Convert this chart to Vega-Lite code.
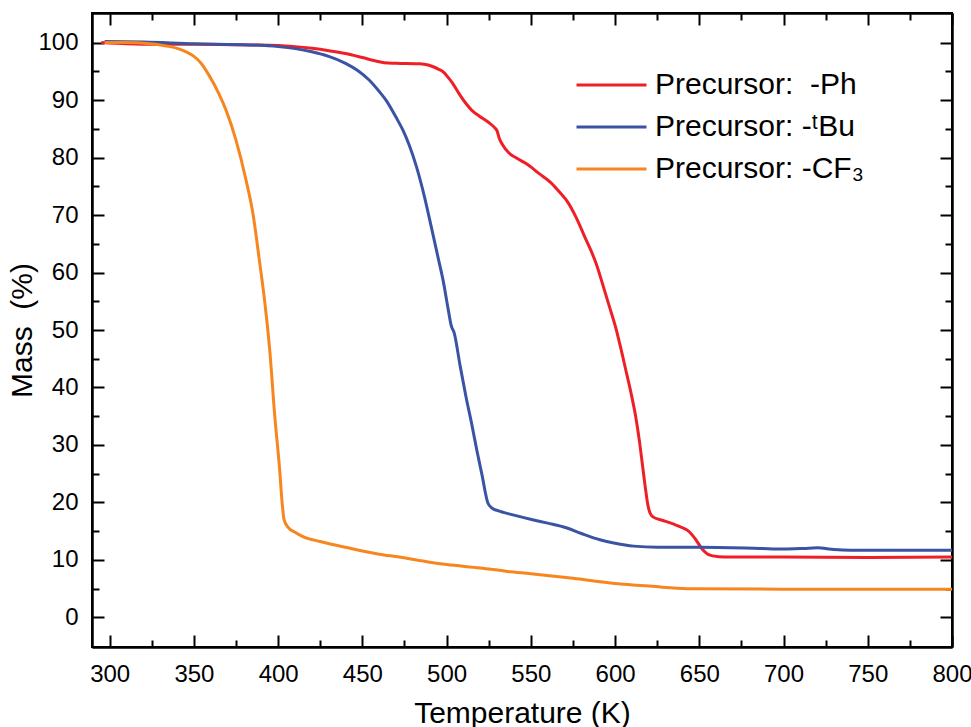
{
  "$schema": "https://vega.github.io/schema/vega-lite/v6.json",
  "width": 860,
  "height": 634,
  "autosize": {"type": "none"},
  "padding": {"left": 92, "top": 13, "right": 19, "bottom": 80},
  "config": {
    "view": {"stroke": "#000000", "strokeWidth": 2},
    "font": "Liberation Sans",
    "axis": {"grid": false, "labelFont": "Liberation Sans", "labelColor": "#000000", "titleFont": "Liberation Sans", "titleColor": "#000000", "titleFontWeight": "normal", "labelFlush": false, "labelOverlap": false}
  },
  "data": {"values": [
      {"s":"Precursor:  -Ph","T":295,"M":100},{"s":"Precursor:  -Ph","T":310,"M":99.8},{"s":"Precursor:  -Ph","T":330,"M":99.7},{"s":"Precursor:  -Ph","T":350,"M":99.7},{"s":"Precursor:  -Ph","T":383,"M":99.6},{"s":"Precursor:  -Ph","T":400,"M":99.5},{"s":"Precursor:  -Ph","T":410,"M":99.3},{"s":"Precursor:  -Ph","T":420,"M":99.0},{"s":"Precursor:  -Ph","T":430,"M":98.6},{"s":"Precursor:  -Ph","T":440,"M":98.1},{"s":"Precursor:  -Ph","T":450,"M":97.4},{"s":"Precursor:  -Ph","T":458,"M":96.8},{"s":"Precursor:  -Ph","T":463,"M":96.5},{"s":"Precursor:  -Ph","T":470,"M":96.4},{"s":"Precursor:  -Ph","T":484,"M":96.3},{"s":"Precursor:  -Ph","T":489,"M":96.1},{"s":"Precursor:  -Ph","T":492,"M":95.8},{"s":"Precursor:  -Ph","T":495,"M":95.4},{"s":"Precursor:  -Ph","T":498,"M":94.9},{"s":"Precursor:  -Ph","T":501,"M":93.9},{"s":"Precursor:  -Ph","T":503.6,"M":92.9},{"s":"Precursor:  -Ph","T":507,"M":91.3},{"s":"Precursor:  -Ph","T":511.5,"M":89.4},{"s":"Precursor:  -Ph","T":515,"M":88.2},{"s":"Precursor:  -Ph","T":519.5,"M":87.2},{"s":"Precursor:  -Ph","T":525,"M":86.1},{"s":"Precursor:  -Ph","T":528.5,"M":85.2},{"s":"Precursor:  -Ph","T":530,"M":84.6},{"s":"Precursor:  -Ph","T":531.3,"M":83.3},{"s":"Precursor:  -Ph","T":533.3,"M":82.2},{"s":"Precursor:  -Ph","T":537,"M":80.8},{"s":"Precursor:  -Ph","T":541,"M":80.0},{"s":"Precursor:  -Ph","T":547,"M":79.0},{"s":"Precursor:  -Ph","T":555,"M":77.2},{"s":"Precursor:  -Ph","T":562,"M":75.6},{"s":"Precursor:  -Ph","T":567,"M":74.0},{"s":"Precursor:  -Ph","T":572,"M":72.2},{"s":"Precursor:  -Ph","T":577,"M":69.5},{"s":"Precursor:  -Ph","T":582,"M":66.2},{"s":"Precursor:  -Ph","T":588.7,"M":61.6},{"s":"Precursor:  -Ph","T":593,"M":57.6},{"s":"Precursor:  -Ph","T":596.6,"M":54.1},{"s":"Precursor:  -Ph","T":600.5,"M":50.3},{"s":"Precursor:  -Ph","T":603.5,"M":46.7},{"s":"Precursor:  -Ph","T":606.4,"M":43.0},{"s":"Precursor:  -Ph","T":609.5,"M":39.0},{"s":"Precursor:  -Ph","T":612.2,"M":35.0},{"s":"Precursor:  -Ph","T":614.4,"M":30.8},{"s":"Precursor:  -Ph","T":616.3,"M":26.4},{"s":"Precursor:  -Ph","T":618,"M":22.5},{"s":"Precursor:  -Ph","T":619.5,"M":19.5},{"s":"Precursor:  -Ph","T":621,"M":18.0},{"s":"Precursor:  -Ph","T":623,"M":17.4},{"s":"Precursor:  -Ph","T":628,"M":16.9},{"s":"Precursor:  -Ph","T":634,"M":16.3},{"s":"Precursor:  -Ph","T":640,"M":15.6},{"s":"Precursor:  -Ph","T":644,"M":14.9},{"s":"Precursor:  -Ph","T":648,"M":13.5},{"s":"Precursor:  -Ph","T":651.9,"M":11.8},{"s":"Precursor:  -Ph","T":655,"M":11.0},{"s":"Precursor:  -Ph","T":658,"M":10.7},{"s":"Precursor:  -Ph","T":665,"M":10.5},{"s":"Precursor:  -Ph","T":685,"M":10.5},{"s":"Precursor:  -Ph","T":700,"M":10.5},{"s":"Precursor:  -Ph","T":750,"M":10.4},{"s":"Precursor:  -Ph","T":800,"M":10.5},
      {"s":"Precursor: -ᵗBu","T":297,"M":100.2},{"s":"Precursor: -ᵗBu","T":320,"M":100.1},{"s":"Precursor: -ᵗBu","T":350,"M":99.8},{"s":"Precursor: -ᵗBu","T":383,"M":99.6},{"s":"Precursor: -ᵗBu","T":400,"M":99.3},{"s":"Precursor: -ᵗBu","T":420,"M":98.4},{"s":"Precursor: -ᵗBu","T":430,"M":97.6},{"s":"Precursor: -ᵗBu","T":440,"M":96.4},{"s":"Precursor: -ᵗBu","T":447,"M":95.2},{"s":"Precursor: -ᵗBu","T":454,"M":93.5},{"s":"Precursor: -ᵗBu","T":460,"M":91.5},{"s":"Precursor: -ᵗBu","T":464,"M":90.0},{"s":"Precursor: -ᵗBu","T":470,"M":87.0},{"s":"Precursor: -ᵗBu","T":474,"M":84.8},{"s":"Precursor: -ᵗBu","T":478,"M":82.0},{"s":"Precursor: -ᵗBu","T":482,"M":78.5},{"s":"Precursor: -ᵗBu","T":487,"M":73.0},{"s":"Precursor: -ᵗBu","T":491,"M":67.8},{"s":"Precursor: -ᵗBu","T":495,"M":62.5},{"s":"Precursor: -ᵗBu","T":498,"M":58.5},{"s":"Precursor: -ᵗBu","T":501,"M":53.5},{"s":"Precursor: -ᵗBu","T":502.7,"M":50.8},{"s":"Precursor: -ᵗBu","T":504.5,"M":49.5},{"s":"Precursor: -ᵗBu","T":508,"M":43.8},{"s":"Precursor: -ᵗBu","T":511.5,"M":38.4},{"s":"Precursor: -ᵗBu","T":515,"M":33.5},{"s":"Precursor: -ᵗBu","T":518,"M":29.0},{"s":"Precursor: -ᵗBu","T":521,"M":24.8},{"s":"Precursor: -ᵗBu","T":524.5,"M":19.9},{"s":"Precursor: -ᵗBu","T":527,"M":19.0},{"s":"Precursor: -ᵗBu","T":530,"M":18.6},{"s":"Precursor: -ᵗBu","T":540,"M":17.8},{"s":"Precursor: -ᵗBu","T":551,"M":17.0},{"s":"Precursor: -ᵗBu","T":560,"M":16.4},{"s":"Precursor: -ᵗBu","T":571,"M":15.6},{"s":"Precursor: -ᵗBu","T":580,"M":14.6},{"s":"Precursor: -ᵗBu","T":591,"M":13.5},{"s":"Precursor: -ᵗBu","T":600,"M":12.9},{"s":"Precursor: -ᵗBu","T":611,"M":12.4},{"s":"Precursor: -ᵗBu","T":625,"M":12.2},{"s":"Precursor: -ᵗBu","T":650,"M":12.2},{"s":"Precursor: -ᵗBu","T":686,"M":12.0},{"s":"Precursor: -ᵗBu","T":700,"M":11.9},{"s":"Precursor: -ᵗBu","T":712,"M":12.0},{"s":"Precursor: -ᵗBu","T":720,"M":12.1},{"s":"Precursor: -ᵗBu","T":730,"M":11.8},{"s":"Precursor: -ᵗBu","T":740,"M":11.7},{"s":"Precursor: -ᵗBu","T":770,"M":11.7},{"s":"Precursor: -ᵗBu","T":800,"M":11.7},
      {"s":"Precursor: -CF₃","T":297,"M":100},{"s":"Precursor: -CF₃","T":310,"M":100},{"s":"Precursor: -CF₃","T":324,"M":99.8},{"s":"Precursor: -CF₃","T":330,"M":99.6},{"s":"Precursor: -CF₃","T":336,"M":99.3},{"s":"Precursor: -CF₃","T":341,"M":98.9},{"s":"Precursor: -CF₃","T":346,"M":98.3},{"s":"Precursor: -CF₃","T":350,"M":97.6},{"s":"Precursor: -CF₃","T":354,"M":96.5},{"s":"Precursor: -CF₃","T":359,"M":94.3},{"s":"Precursor: -CF₃","T":365,"M":91.0},{"s":"Precursor: -CF₃","T":369,"M":88.3},{"s":"Precursor: -CF₃","T":375,"M":83.0},{"s":"Precursor: -CF₃","T":381,"M":76.0},{"s":"Precursor: -CF₃","T":385,"M":70.3},{"s":"Precursor: -CF₃","T":389,"M":61.8},{"s":"Precursor: -CF₃","T":392,"M":55.0},{"s":"Precursor: -CF₃","T":395,"M":46.5},{"s":"Precursor: -CF₃","T":398,"M":35.0},{"s":"Precursor: -CF₃","T":400.8,"M":26.0},{"s":"Precursor: -CF₃","T":402.5,"M":19.5},{"s":"Precursor: -CF₃","T":403.5,"M":17.0},{"s":"Precursor: -CF₃","T":405.8,"M":15.7},{"s":"Precursor: -CF₃","T":410,"M":14.8},{"s":"Precursor: -CF₃","T":415,"M":14.0},{"s":"Precursor: -CF₃","T":425,"M":13.2},{"s":"Precursor: -CF₃","T":440,"M":12.2},{"s":"Precursor: -CF₃","T":460,"M":11.0},{"s":"Precursor: -CF₃","T":472,"M":10.5},{"s":"Precursor: -CF₃","T":490,"M":9.6},{"s":"Precursor: -CF₃","T":500,"M":9.2},{"s":"Precursor: -CF₃","T":520,"M":8.6},{"s":"Precursor: -CF₃","T":536,"M":8.0},{"s":"Precursor: -CF₃","T":550,"M":7.6},{"s":"Precursor: -CF₃","T":575,"M":6.8},{"s":"Precursor: -CF₃","T":600,"M":5.9},{"s":"Precursor: -CF₃","T":622,"M":5.4},{"s":"Precursor: -CF₃","T":643,"M":5.0},{"s":"Precursor: -CF₃","T":700,"M":4.9},{"s":"Precursor: -CF₃","T":750,"M":4.9},{"s":"Precursor: -CF₃","T":800,"M":4.9}
  ]},
  "layer": [
    {
      "mark": {"type": "line", "strokeWidth": 3, "interpolate": "monotone"},
      "encoding": {
        "x": {"field": "T", "type": "quantitative", "scale": {"domain": [289.5, 800], "nice": false, "zero": false},
              "axis": {"orient": "bottom", "values": [300, 350, 400, 450, 500, 550, 600, 650, 700, 750, 800], "tickSize": -12, "tickColor": "black", "tickWidth": 2, "domainColor": "black", "domainWidth": 2, "labelFontSize": 24, "labelPadding": 27, "title": "Temperature (K)", "titleFontSize": 30, "titlePadding": 12}},
        "y": {"field": "M", "type": "quantitative", "scale": {"domain": [-5.15, 105.15], "nice": false, "zero": false},
              "axis": {"orient": "left", "values": [0, 10, 20, 30, 40, 50, 60, 70, 80, 90, 100], "tickSize": -12, "tickColor": "black", "tickWidth": 2, "domainColor": "black", "domainWidth": 2, "labelFontSize": 24, "labelPadding": 26, "title": "Mass \u00a0(%)", "titleFontSize": 30, "titlePadding": 0}},
        "color": {"field": "s", "type": "nominal",
                  "scale": {"domain": ["Precursor:  -Ph", "Precursor: -ᵗBu", "Precursor: -CF₃"], "range": ["#EE1F26", "#3A53A4", "#F7861F"]},
                  "legend": {"orient": "none", "legendX": 483, "legendY": 57, "title": null, "symbolType": "stroke", "symbolSize": 4900, "symbolStrokeWidth": 3, "labelFontSize": 30, "labelFont": "Liberation Sans", "labelColor": "#000000", "labelLimit": 500, "labelOffset": 7, "clipHeight": 30, "rowPadding": 12, "padding": 0,
                             "labelExpr": "datum.label == 'Precursor:  -Ph' ? 'Precursor: \u00a0-Ph' : datum.label"}}
      }
    },
    {
      "mark": {"type": "line", "strokeOpacity": 0},
      "encoding": {
        "x": {"field": "T", "type": "quantitative", "axis": {"orient": "bottom", "values": [325, 375, 425, 475, 525, 575, 625, 675, 725, 775], "tickSize": -7, "tickColor": "black", "tickWidth": 2, "domainColor": "black", "domainWidth": 2, "labels": false, "title": null}},
        "y": {"field": "M", "type": "quantitative", "axis": {"orient": "left", "values": [5, 15, 25, 35, 45, 55, 65, 75, 85, 95], "tickSize": -7, "tickColor": "black", "tickWidth": 2, "domainColor": "black", "domainWidth": 2, "labels": false, "title": null}}
      }
    },
    {
      "mark": {"type": "line", "strokeOpacity": 0},
      "encoding": {
        "x": {"field": "T", "type": "quantitative", "axis": {"orient": "top", "values": [300, 350, 400, 450, 500, 550, 600, 650, 700, 750, 800], "tickSize": -12, "tickColor": "black", "tickWidth": 2, "domainColor": "black", "domainWidth": 2, "labels": false, "title": null}},
        "y": {"field": "M", "type": "quantitative", "axis": {"orient": "right", "values": [0, 10, 20, 30, 40, 50, 60, 70, 80, 90, 100], "tickSize": -12, "tickColor": "black", "tickWidth": 2, "domainColor": "black", "domainWidth": 2, "labels": false, "title": null}}
      }
    },
    {
      "mark": {"type": "line", "strokeOpacity": 0},
      "encoding": {
        "x": {"field": "T", "type": "quantitative", "axis": {"orient": "top", "values": [325, 375, 425, 475, 525, 575, 625, 675, 725, 775], "tickSize": -7, "tickColor": "black", "tickWidth": 2, "domainColor": "black", "domainWidth": 2, "labels": false, "title": null}},
        "y": {"field": "M", "type": "quantitative", "axis": {"orient": "right", "values": [5, 15, 25, 35, 45, 55, 65, 75, 85, 95], "tickSize": -7, "tickColor": "black", "tickWidth": 2, "domainColor": "black", "domainWidth": 2, "labels": false, "title": null}}
      }
    }
  ],
  "resolve": {"axis": {"x": "independent", "y": "independent"}}
}
